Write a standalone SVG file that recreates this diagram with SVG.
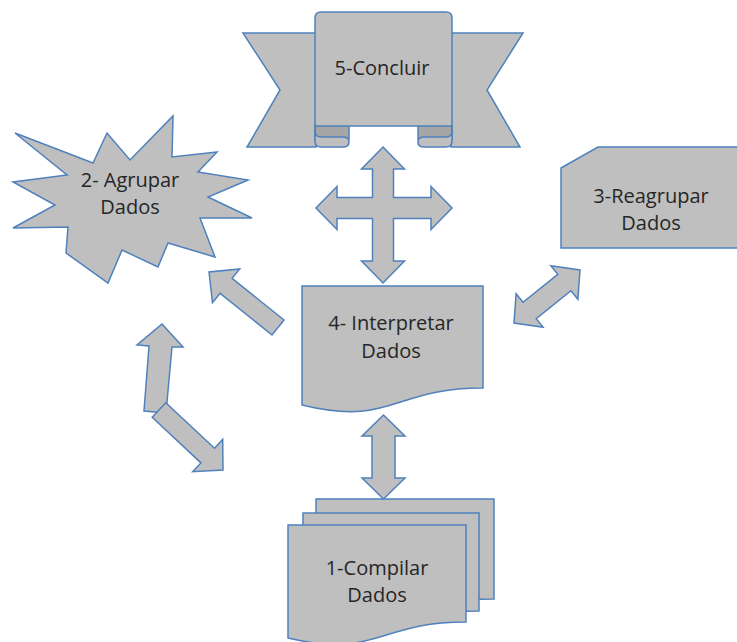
<svg xmlns="http://www.w3.org/2000/svg" width="737" height="642" viewBox="0 0 737 642">
<style>
.s{fill:#bfbfbf;stroke:#4f81bd;stroke-width:1.5;stroke-linejoin:miter}
.d{fill:#a6a6a6;stroke:#4f81bd;stroke-width:1.5}
.t{font-family:"Open Sans","Liberation Sans",sans-serif;font-size:20px;fill:#262626;text-anchor:middle}
</style>
<rect width="737" height="642" fill="#ffffff"/>
<g id="node-5">
<polygon class="s" points="243,33 316,33 316,147 247,147 280,90"/>
<polygon class="s" points="523,33 451,33 451,147 520,147 487,90"/>
<rect class="d" x="315" y="125" width="34" height="14"/>
<rect class="d" x="418" y="125" width="34" height="14"/>
<path class="s" d="M315,18 Q315,12 321,12 L446,12 Q452,12 452,18 L452,126 L315,126 Z"/>
<path class="s" d="M315,126 L315,141 Q315,147 321,147 L343,147 Q349,147 349,142 Q349,137 343,137 L321,137 Q315,137 315,131"/>
<path class="s" d="M452,126 L452,141 Q452,147 446,147 L424,147 Q418,147 418,142 Q418,137 424,137 L446,137 Q452,137 452,131"/>
<text class="t" x="382" y="75">5-Concluir</text>
</g>
<g id="node-2">
<polygon class="s" points="173,116 172,157 217,152 198,172 248,180 208,197 252,218 200,218 215,257 168,243 158,267 122,250 108,283 66,253 68,227 13,228 55,205 13,182 67,175 15,133 93,163 107,133 130,160"/>
<text class="t" x="130" y="187">2- Agrupar</text>
<text class="t" x="130" y="214">Dados</text>
</g>
<g id="node-3">
<path class="s" d="M561,168 L598,147 L742,147 L742,248 L561,248 Z"/>
<text class="t" x="651" y="203">3-Reagrupar</text>
<text class="t" x="651" y="230">Dados</text>
</g>
<g id="node-4">
<path class="s" d="M302,286 L483,286 L483,388 C392,388 392,427 302,405 Z"/>
<text class="t" x="391" y="330">4- Interpretar</text>
<text class="t" x="391" y="358">Dados</text>
</g>
<g id="node-1">
<path class="s" d="M316,499 L494,499 L494,599 C405,599 405,637 316,617 Z"/>
<path class="s" d="M303,513 L479,513 L479,611 C391,611 391,648 303,627 Z"/>
<path class="s" d="M288,525 L466,525 L466,622 C377,622 377,659 288,638 Z"/>
<text class="t" x="377" y="575">1-Compilar</text>
<text class="t" x="377" y="602">Dados</text>
</g>
<g id="connectors">
<path class="s" d="M383,147 L404.5,169 L393.5,169 L393.5,197.5 L431,197.5 L431,186.5 L452,208 L431,229.5 L431,218.5 L393.5,218.5 L393.5,261 L404.5,261 L383,283 L361.5,261 L372.5,261 L372.5,218.5 L337,218.5 L337,229.5 L316,208 L337,186.5 L337,197.5 L372.5,197.5 L372.5,169 L361.5,169 Z"/>
<path class="s" d="M383.5,415 L405,436 L395,436 L395,478 L405,478 L383.5,499 L362,478 L372,478 L372,436 L362,436 Z"/>
<polygon class="s" points="514,323 516.1,293.7 523,302.3 557.8,274.3 550.9,265.7 580,270 577.9,299.3 571,290.7 536.2,318.7 543.1,327.3"/>
<polygon class="s" points="284,320 232.1,278.3 239.7,268.9 209,272 212.5,302.7 220.1,293.3 272,335"/>
<polygon class="s" points="162,324 183,347 172,347 166,413 144,411 149,346 137,345"/>
<polygon class="s" points="165.8,402.7 214.5,448.3 222.7,439.5 223,470 192.7,471.7 200.9,462.9 152.2,417.3"/>
</g>
</svg>
